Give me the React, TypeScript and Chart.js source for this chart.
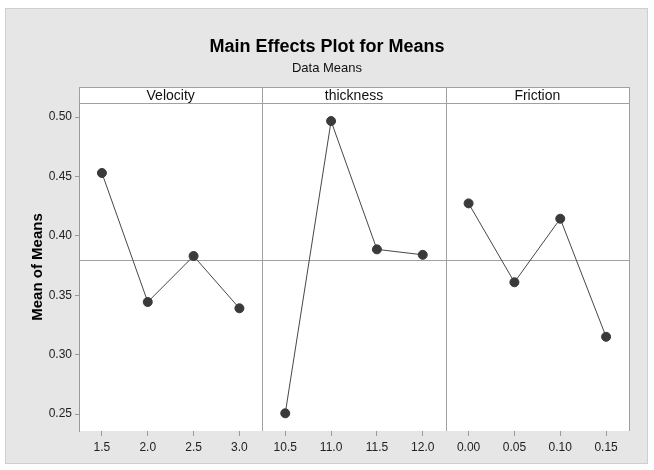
import React, { useEffect, useRef } from "react";
import { Chart, registerables } from "chart.js";

Chart.register(...registerables);

const factorNames = ["Velocity", "thickness", "Friction"];
const velocityLevels = ["1.5", "2.0", "2.5", "3.0"];
const thicknessLevels = ["10.5", "11.0", "11.5", "12.0"];
const frictionLevels = ["0.00", "0.05", "0.10", "0.15"];
const velocityMeans = [0.4529, 0.3443, 0.383, 0.3390];
const thicknessMeans = [0.2506, 0.4966, 0.3886, 0.3840];
const frictionMeans = [0.4273, 0.3609, 0.4144, 0.3150];
const yTicks = [0.25, 0.3, 0.35, 0.4, 0.45, 0.5];
const yMin = 0.2357;
const yMax = 0.5118;
const titleText = "Main Effects Plot for Means";
const subtitleText = "Data Means";
const yTitle = "Mean of Means";

const FONT = "'Liberation Sans', Arial, sans-serif";

export default function App() {
  const ref = useRef<HTMLCanvasElement | null>(null);

  useEffect(() => {
    const canvas = ref.current;
    if (!canvas) return;
    const labels = [...velocityLevels, ...thicknessLevels, ...frictionLevels];
    const n = velocityLevels.length;
    const pad = (arr: number[], before: number, total: number) => {
      const out: (number | null)[] = new Array(total).fill(null);
      arr.forEach((v, i) => (out[before + i] = v));
      return out;
    };
    const total = labels.length;
    const groups = [velocityMeans, thicknessMeans, frictionMeans];
    const all = [...velocityMeans, ...thicknessMeans, ...frictionMeans];
    const grandMean = all.reduce((a, b) => a + b, 0) / all.length;

    const datasets = groups.map((g, gi) => ({
      label: factorNames[gi],
      data: pad(g, gi * n, total),
      borderColor: "#474747",
      backgroundColor: "#3a3a3a",
      pointBackgroundColor: "#3a3a3a",
      pointBorderColor: "#3a3a3a",
      pointRadius: 4.5,
      borderWidth: 1,
      spanGaps: false,
      tension: 0,
    }));

    const decor = {
      id: "decor",
      beforeDraw(chart: any) {
        const { ctx, chartArea, scales } = chart;
        const { left, right, top, bottom } = chartArea;
        ctx.save();
        ctx.fillStyle = "#ffffff";
        ctx.fillRect(0, 0, chart.width, chart.height);
        ctx.fillStyle = "#e6e6e6";
        ctx.fillRect(5, 8, 643, 456);
        ctx.strokeStyle = "#cfcfcf";
        ctx.lineWidth = 1;
        ctx.strokeRect(5.5, 8.5, 642, 455);
        ctx.fillStyle = "#ffffff";
        ctx.fillRect(left, top, right - left, bottom - top);
        // strip
        const stripTop = top - 16;
        ctx.fillRect(left, stripTop, right - left, 16);
        ctx.strokeStyle = "#a0a0a0";
        ctx.beginPath();
        ctx.moveTo(left, stripTop + 0.5);
        ctx.lineTo(right, stripTop + 0.5);
        ctx.moveTo(left, top + 0.5);
        ctx.lineTo(right, top + 0.5);
        ctx.stroke();
        const x = scales.x;
        const bounds: number[] = [left];
        for (let g = 1; g < factorNames.length; g++) {
          bounds.push((x.getPixelForValue(g * n - 1) + x.getPixelForValue(g * n)) / 2);
        }
        bounds.push(right);
        ctx.beginPath();
        bounds.forEach((b) => {
          const bx = Math.round(b) + 0.5;
          ctx.moveTo(bx, stripTop);
          ctx.lineTo(bx, bottom);
        });
        ctx.stroke();
        ctx.fillStyle = "#111111";
        ctx.font = `14px ${FONT}`;
        ctx.textAlign = "center";
        ctx.textBaseline = "middle";
        factorNames.forEach((name, i) => {
          ctx.fillText(name, (bounds[i] + bounds[i + 1]) / 2, stripTop + 9);
        });
        // titles
        ctx.fillStyle = "#000000";
        ctx.font = `bold 18px ${FONT}`;
        ctx.fillText(titleText, chart.width / 2, 47);
        ctx.font = `13px ${FONT}`;
        ctx.fillStyle = "#111111";
        ctx.fillText(subtitleText, chart.width / 2, 68);
        ctx.restore();
      },
      beforeDatasetsDraw(chart: any) {
        const { ctx, chartArea, scales } = chart;
        const y = Math.round(scales.y.getPixelForValue(grandMean)) + 0.5;
        ctx.save();
        ctx.strokeStyle = "#a0a0a0";
        ctx.lineWidth = 1;
        ctx.beginPath();
        ctx.moveTo(chartArea.left, y);
        ctx.lineTo(chartArea.right, y);
        ctx.stroke();
        ctx.restore();
      },
    };

    const chart = new Chart(canvas, {
      type: "line",
      data: { labels, datasets },
      plugins: [decor],
      options: {
        animation: false,
        responsive: false,
        devicePixelRatio: 1,
        layout: { padding: { left: 25, right: 25, top: 103, bottom: 9 } },
        plugins: { legend: { display: false }, tooltip: { enabled: false } },
        scales: {
          x: {
            type: "category",
            offset: true,
            grid: {
              display: true,
              drawOnChartArea: false,
              drawTicks: true,
              tickLength: 5,
              offset: false,
              color: "#9a9a9a",
            },
            border: { display: false },
            ticks: {
              color: "#222222",
              font: { family: FONT, size: 12 },
              padding: 4,
              maxRotation: 0,
              autoSkip: false,
            },
            afterFit(scale: any) {
              scale.height = 30;
            },
          },
          y: {
            type: "linear",
            min: yMin,
            max: yMax,
            afterBuildTicks(scale: any) {
              scale.ticks = yTicks.map((v) => ({ value: v }));
            },
            grid: {
              display: true,
              drawOnChartArea: false,
              drawTicks: true,
              tickLength: 4,
              color: "#9a9a9a",
            },
            border: { display: true, color: "#9a9a9a" },
            ticks: {
              color: "#222222",
              font: { family: FONT, size: 12 },
              padding: 3,
              callback: (v: any) => Number(v).toFixed(2),
            },
            title: {
              display: true,
              text: yTitle,
              color: "#000000",
              font: { family: FONT, size: 15, weight: "bold" },
              padding: { top: 4, bottom: 0 },
            },
            afterFit(scale: any) {
              scale.width = 54;
            },
          },
        },
      },
    });
    return () => chart.destroy();
  }, []);

  return (
    <div style={{ position: "fixed", left: 0, top: 0, width: 654, height: 470 }}>
      <canvas ref={ref} width={654} height={470} style={{ display: "block" }} />
    </div>
  );
}
